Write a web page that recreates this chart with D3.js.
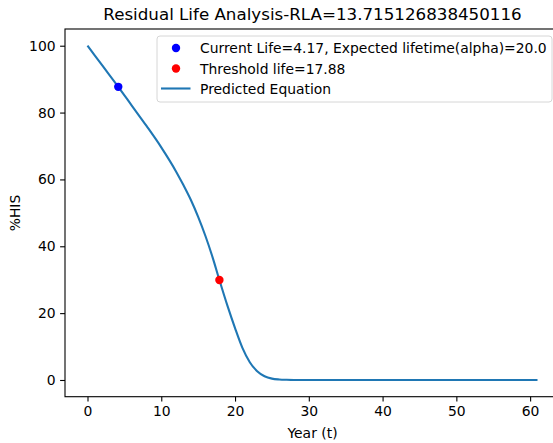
<!DOCTYPE html>
<html>
<head>
<meta charset="utf-8">
<script src="https://cdn.jsdelivr.net/npm/d3@7.9.0/dist/d3.min.js"></script>
<style>
  body { margin: 0; background: #fff; }
  svg { display: block; font-family: "DejaVu Sans", sans-serif; }
</style>
</head>
<body>
<svg id="chart" width="553" height="443"></svg>
<script>
// values
const years = [0, 2, 4.17, 6, 8, 10, 12, 13, 14, 15, 16, 17, 17.88, 19, 20, 21, 22, 23, 24, 25, 26, 27, 28, 40, 50, 61];
const his = [100, 94.1, 87.7, 82.1, 76.0, 69.6, 62.4, 58.3, 53.9, 48.8, 43.0, 36.4, 29.9, 22.0, 15.5, 9.6, 5.3, 2.6, 1.1, 0.4, 0.15, 0.05, 0, 0, 0, 0];
const currentLife = [4.17, 87.7];
const thresholdLife = [17.88, 29.9];
const xTicks = [0, 10, 20, 30, 40, 50, 60];
const yTicks = [0, 20, 40, 60, 80, 100];
const legendLabels = ["Current Life=4.17, Expected lifetime(alpha)=20.0", "Threshold life=17.88", "Predicted Equation"];
const title = "Residual Life Analysis-RLA=13.715126838450116";

const svg = d3.select('#chart');
const mLeft = 65, mRight = 560, mTop = 29, mBottom = 396.7;

let x = d3.scaleLinear().domain([-3.05, 64.05]).range([mLeft, mRight]);
let y = d3.scaleLinear().domain([-5, 105]).range([mBottom, mTop]);

// axes
let xAxis = svg.append('g').attr('transform', `translate(0,${mBottom})`)
  .call(d3.axisBottom(x).tickValues(xTicks).tickSize(4.9).tickPadding(4.5));
let yAxis = svg.append('g').attr('transform', `translate(${mLeft},0)`)
  .call(d3.axisLeft(y).tickValues(yTicks).tickSize(4.9).tickPadding(4.5));
[xAxis, yAxis].forEach(a => {
  a.selectAll('text').attr('font-size', 13.9).attr('font-family', '"DejaVu Sans", sans-serif').attr('fill', '#000');
  a.selectAll('line').attr('stroke', '#000').attr('stroke-width', 1.1);
  a.select('.domain').remove();
});

// frame (spines)
svg.append('rect')
  .attr('x', mLeft).attr('y', mTop)
  .attr('width', mRight - mLeft).attr('height', mBottom - mTop)
  .attr('fill', 'none').attr('stroke', '#000').attr('stroke-width', 1.1);

// curve
let line = d3.line().x((d, i) => x(years[i])).y((d, i) => y(his[i])).curve(d3.curveMonotoneX);
svg.append('path')
  .attr('d', line(his))
  .attr('fill', 'none').attr('stroke', '#1f77b4').attr('stroke-width', 2.1);

// points
svg.append('circle').attr('cx', x(currentLife[0])).attr('cy', y(currentLife[1])).attr('r', 4.2).attr('fill', 'blue');
svg.append('circle').attr('cx', x(thresholdLife[0])).attr('cy', y(thresholdLife[1])).attr('r', 4.2).attr('fill', 'red');

// title and labels
svg.append('text').attr('x', (mLeft + mRight) / 2).attr('y', 20)
  .attr('text-anchor', 'middle').attr('font-size', 16.7).text(title);
svg.append('text').attr('x', (mLeft + mRight) / 2).attr('y', 437.5)
  .attr('text-anchor', 'middle').attr('font-size', 13.9).text('Year (t)');
svg.append('text').attr('transform', 'translate(20,213) rotate(-90)')
  .attr('text-anchor', 'middle').attr('font-size', 13.9).text('%HIS');

// legend
let legend = svg.append('g');
legend.append('rect')
  .attr('x', 157).attr('y', 36).attr('width', 395).attr('height', 66).attr('rx', 3)
  .attr('fill', 'rgba(255,255,255,0.8)').attr('stroke', '#d6d6d6').attr('stroke-width', 1);
const rowY = [48, 68.5, 88.5];
legend.append('circle').attr('cx', 176).attr('cy', rowY[0]).attr('r', 4.2).attr('fill', 'blue');
legend.append('circle').attr('cx', 176).attr('cy', rowY[1]).attr('r', 4.2).attr('fill', 'red');
legend.append('line').attr('x1', 161).attr('x2', 190.5).attr('y1', rowY[2]).attr('y2', rowY[2])
  .attr('stroke', '#1f77b4').attr('stroke-width', 2.1);
legendLabels.forEach((lbl, i) => {
  legend.append('text').attr('x', 200).attr('y', rowY[i]).attr('dy', '0.36em')
    .attr('font-size', 13.9).text(lbl);
});
</script>
</body>
</html>
